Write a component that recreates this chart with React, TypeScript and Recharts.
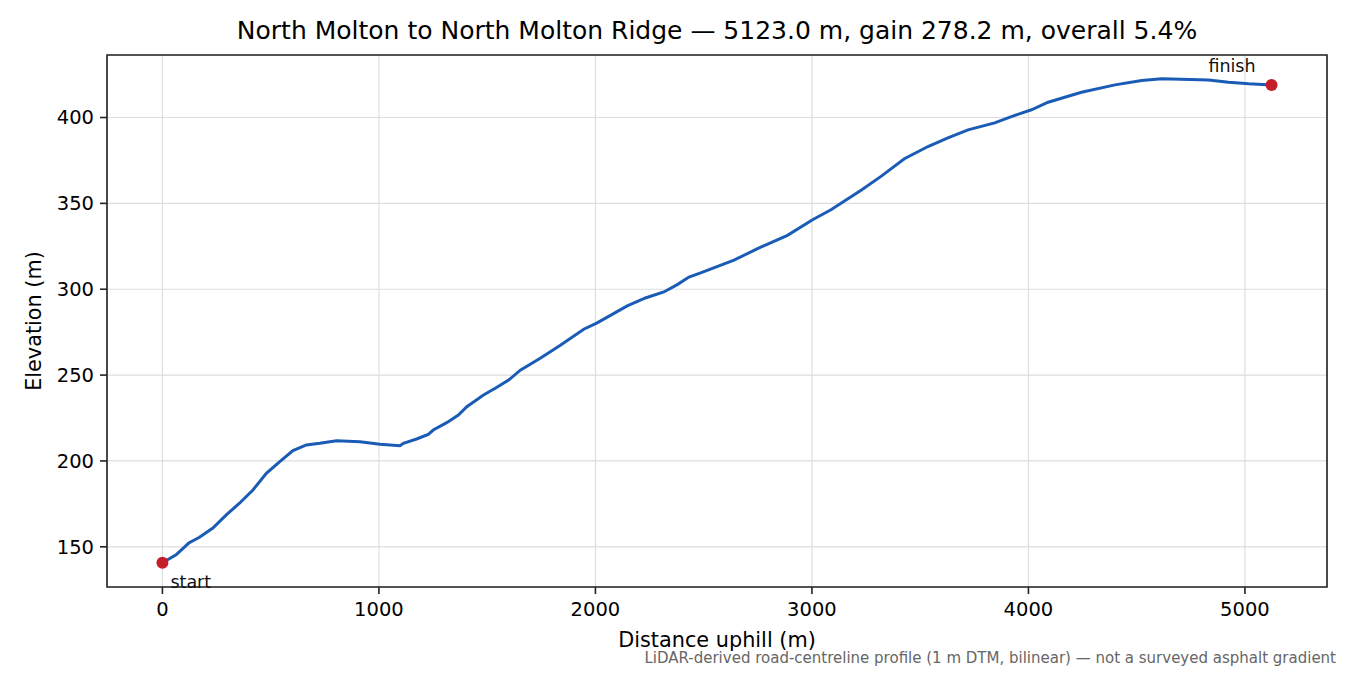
import React from "react";
import { LineChart, Line, XAxis, YAxis, CartesianGrid, ReferenceDot, ReferenceArea } from "recharts";

// distance along the climb (m) and elevation (m)
const distance = [
  0, 63, 122, 171, 233, 295, 356, 418, 480, 542, 603, 665, 727, 804, 912, 1005, 1097, 1113,
  1174, 1228, 1251, 1313, 1367, 1406, 1483, 1545, 1599, 1653, 1745, 1838, 1946, 2008, 2147,
  2231, 2316, 2378, 2432, 2486, 2640, 2749, 2887, 3003, 3088, 3227, 3319, 3427, 3536, 3628,
  3721, 3844, 3937, 4014, 4091, 4245, 4400, 4523, 4616, 4832, 4924, 5017, 5123,
];
const elevation = [
  140.7, 145.3, 152.2, 155.6, 160.9, 168.6, 175.4, 183.1, 192.8, 199.6, 206.0, 209.3, 210.3,
  211.8, 211.2, 209.7, 208.9, 210.3, 212.8, 215.5, 218.0, 222.3, 226.7, 231.6, 238.4, 242.9,
  247.1, 252.9, 259.8, 267.4, 276.7, 280.4, 290.3, 294.9, 298.4, 302.7, 307.1, 309.5, 316.9,
  323.7, 331.4, 340.5, 346.3, 357.6, 365.7, 376.0, 383.1, 388.2, 392.8, 396.9, 401.2, 404.5,
  408.9, 414.7, 419.0, 421.5, 422.5, 421.9, 420.5, 419.6, 418.9,
];
const xTicks = [0, 1000, 2000, 3000, 4000, 5000];
const yTicks = [150, 200, 250, 300, 350, 400];

const title = "North Molton to North Molton Ridge — 5123.0 m, gain 278.2 m, overall 5.4%";
const note = "LiDAR-derived road-centreline profile (1 m DTM, bilinear) — not a surveyed asphalt gradient";

const data = distance.map((d, i) => ({ d, e: elevation[i] }));
const first = data[0];
const last = data[data.length - 1];

const font = "'DejaVu Sans', sans-serif";
const X_DOMAIN: [number, number] = [-256, 5379];
const Y_DOMAIN: [number, number] = [126.6, 436.4];

function marker(label: string, dx: number, dy: number, anchor: "start" | "end") {
  return (p: any) => (
    <g>
      <circle cx={p.cx} cy={p.cy} r={6} fill="#c41e2a" />
      <text x={p.cx + dx} y={p.cy + dy} textAnchor={anchor} fontSize={17.5} fontFamily={font} fill="#111">
        {label}
      </text>
    </g>
  );
}

export default function App() {
  return (
    <div style={{ position: "relative", width: 1350, height: 675, fontFamily: font, background: "#fff" }}>
      <style>{`body{margin:0}`}</style>
      <div style={{ position: "absolute", left: 0, width: 1434, top: 16, textAlign: "center", fontSize: 25, color: "#000", whiteSpace: "nowrap" }}>
        {title}
      </div>
      <LineChart width={1350} height={675} data={data} margin={{ top: 55, right: 23, left: 7, bottom: 28 }}>
        <CartesianGrid stroke="#dedede" strokeWidth={1.2} />
        <XAxis
          dataKey="d"
          type="number"
          domain={X_DOMAIN}
          ticks={xTicks}
          allowDataOverflow
          height={60}
          tick={{ fontSize: 19.5, fill: "#000", fontFamily: font, dy: 6 }}
          tickSize={7}
          tickLine={{ stroke: "#222", strokeWidth: 1.6 }}
          axisLine={false}
          label={{ value: "Distance uphill (m)", position: "insideBottom", offset: 0, fontSize: 20.8, fill: "#000", fontFamily: font }}
        />
        <YAxis
          dataKey="e"
          type="number"
          domain={Y_DOMAIN}
          ticks={yTicks}
          allowDataOverflow
          width={100}
          tick={{ fontSize: 19.5, fill: "#000", fontFamily: font, dx: -4 }}
          tickSize={7}
          tickLine={{ stroke: "#222", strokeWidth: 1.6 }}
          axisLine={false}
          label={{ value: "Elevation (m)", angle: -90, position: "insideLeft", offset: 27, fontSize: 20.8, fill: "#000", fontFamily: font, style: { textAnchor: "middle" } }}
        />
        <ReferenceArea x1={X_DOMAIN[0]} x2={X_DOMAIN[1]} y1={Y_DOMAIN[0]} y2={Y_DOMAIN[1]} fill="none" stroke="#222" strokeWidth={1.6} fillOpacity={0} />
        <Line type="linear" dataKey="e" stroke="#1a5cb5" strokeWidth={3} dot={false} isAnimationActive={false} />
        <ReferenceDot x={first.d} y={first.e} r={6} shape={marker("start", 8, 25, "start")} />
        <ReferenceDot x={last.d} y={last.e} r={6} shape={marker("finish", -16, -13, "end")} />
      </LineChart>
      <div style={{ position: "absolute", right: 14, top: 652, fontSize: 15, lineHeight: "12px", color: "#666", whiteSpace: "nowrap" }}>
        {note}
      </div>
    </div>
  );
}
